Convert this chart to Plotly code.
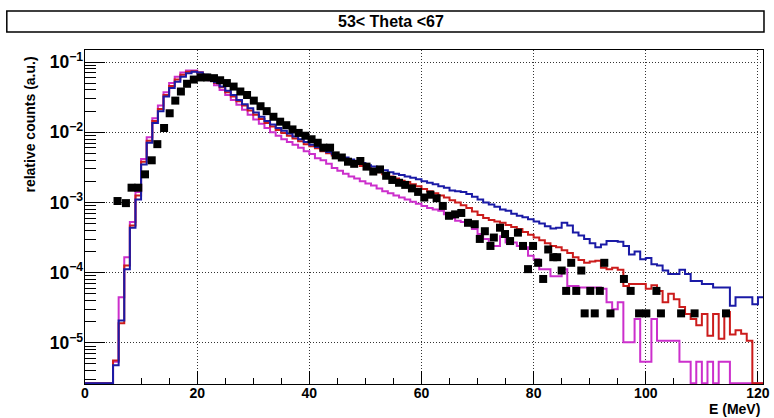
import plotly.graph_objects as go

# ---------------- data ----------------
# 1-MeV bins starting at 0 MeV; values are log10(relative counts); None = empty bin
bin_low_edges_mev = list(range(0, 121))

blue_log10 = [None, None, None, None, None,
    -5.32, -4.68, -3.95, -3.36, -2.96, -2.46, -2.15, -1.87, -1.70, -1.49,
    -1.37, -1.28, -1.21, -1.16, -1.14, -1.15, -1.18, -1.23, -1.29, -1.35,
    -1.41, -1.47, -1.54, -1.60, -1.66, -1.72, -1.78, -1.84, -1.89, -1.94,
    -1.98, -2.02, -2.06, -2.10, -2.14, -2.18, -2.21, -2.24, -2.28, -2.31,
    -2.34, -2.36, -2.39, -2.42, -2.44, -2.47, -2.49, -2.52, -2.54, -2.57,
    -2.59, -2.61, -2.63, -2.65, -2.67, -2.70, -2.72, -2.74, -2.77, -2.79,
    -2.83, -2.84, -2.85, -2.88, -2.92, -2.96, -3.00, -3.03, -3.06, -3.10,
    -3.12, -3.16, -3.19, -3.21, -3.24, -3.27, -3.30, -3.34, -3.37, -3.36,
    -3.29, -3.33, -3.43, -3.47, -3.52, -3.58, -3.64, -3.60, -3.55, -3.55,
    -3.56, -3.62, -3.74, -3.70, -3.81, -3.79, -3.88, -3.90, -3.97, -4.02,
    -4.02, -3.96, -4.02, -4.12, -4.12, -4.16, -4.16, -4.21, -4.21, -4.21,
    -4.47, -4.35, -4.35, -4.35, -4.45, -4.35]

red_log10 = [None, None, None, None, None,
    -5.25, -4.72, -3.90, -3.33, -2.90, -2.42, -2.12, -1.84, -1.67, -1.47,
    -1.34, -1.25, -1.18, -1.14, -1.13, -1.15, -1.19, -1.24, -1.30, -1.36,
    -1.43, -1.49, -1.56, -1.62, -1.69, -1.75, -1.81, -1.87, -1.92, -1.97,
    -2.01, -2.05, -2.09, -2.13, -2.17, -2.20, -2.23, -2.27, -2.30, -2.33,
    -2.36, -2.39, -2.42, -2.45, -2.48, -2.51, -2.54, -2.57, -2.60, -2.63,
    -2.66, -2.69, -2.71, -2.74, -2.77, -2.81, -2.84, -2.87, -2.90, -2.93,
    -2.97, -3.00, -3.04, -3.08, -3.13, -3.18, -3.22, -3.25, -3.27, -3.29,
    -3.32, -3.35, -3.38, -3.42, -3.46, -3.50, -3.54, -3.58, -3.62, -3.64,
    -3.68, -3.72, -3.78, -3.82, -3.86, -3.84, -3.83, -3.93, -3.95, -3.93,
    -3.96, -4.19, -4.16, -4.16, -4.16, -4.23, -4.18, -4.26, -4.42, -4.30,
    -4.38, -4.49, -4.59, -4.66, -4.75, -4.59, -4.90, -4.59, -4.94, -4.56,
    -4.88, -4.82, -4.87, -4.97, None, None]

magenta_log10 = [None, None, None, None, None,
    -5.27, -4.35, -3.78, -3.28, -2.85, -2.38, -2.07, -1.80, -1.62, -1.43,
    -1.30, -1.21, -1.15, -1.12, -1.12, -1.15, -1.20, -1.26, -1.33, -1.40,
    -1.47, -1.54, -1.61, -1.68, -1.75, -1.82, -1.88, -1.94, -2.00, -2.05,
    -2.10, -2.14, -2.18, -2.22, -2.27, -2.31, -2.37, -2.40, -2.45, -2.51,
    -2.55, -2.59, -2.63, -2.66, -2.70, -2.73, -2.76, -2.80, -2.84, -2.87,
    -2.90, -2.93, -2.96, -2.99, -3.02, -3.05, -3.08, -3.10, -3.12, -3.17,
    -3.22, -3.26, -3.28, -3.32, -3.38, -3.45, -3.52, -3.62, -3.62, -3.48,
    -3.57, -3.57, -3.62, -3.64, -3.76, -3.81, -3.95, -3.95, -4.05, -4.05,
    -3.95, -4.19, -4.19, -4.21, -4.21, -4.21, -4.21, -4.23, -4.42, -4.52,
    -4.42, -4.99, -4.99, -4.66, -5.27, -5.27, -4.66, -4.97, -4.97, -4.97,
    -4.97, -5.27, -5.27, None, -5.27, None, -5.27, None, -5.27, -5.27,
    None, None, None, None, None, None]

data_energy_mev = [
    5.8, 7.3, 8.3, 9.5, 10.7, 11.9, 12.9, 14.1, 15.1, 16.1, 17.1, 18.2, 19.4, 20.6,
    21.8, 23.0, 24.1, 25.3, 26.5, 27.7, 28.9, 30.1, 31.3, 32.4, 33.6, 34.8, 35.9,
    37.0, 38.1, 39.3, 40.4, 41.5, 42.5, 43.7, 44.7, 45.8, 46.9, 48.0, 49.1, 50.2,
    51.4, 52.6, 53.7, 54.8, 56.0, 57.1, 58.3, 59.4, 60.5, 61.6, 62.7, 63.8, 64.9,
    66.0, 67.1, 68.3, 69.5, 70.4, 71.3, 72.3, 72.9, 74.0, 74.9, 75.8, 77.2, 78.1,
    79.0, 79.9, 80.8, 81.7, 82.6, 83.5, 84.2, 85.0, 85.8, 86.7, 87.6, 88.5, 89.1,
    90.1, 90.9, 91.8, 92.6, 93.7, 96.1, 97.3, 98.8, 100.1, 101.9, 102.7, 106.3,
    108.7, 114.3]
data_log10 = [
    -2.98, -3.01, -2.79, -2.79, -2.60, -2.40, -2.17, -1.94, -1.73, -1.55, -1.42, -1.31, -1.25, -1.22,
    -1.22, -1.23, -1.26, -1.30, -1.35, -1.42, -1.47, -1.55, -1.63, -1.70, -1.78, -1.85, -1.90,
    -1.96, -2.01, -2.05, -2.10, -2.15, -2.22, -2.22, -2.33, -2.36, -2.42, -2.45, -2.41, -2.49,
    -2.56, -2.53, -2.62, -2.68, -2.72, -2.75, -2.80, -2.85, -2.93, -2.89, -2.94, -3.05, -3.19,
    -3.17, -3.15, -3.29, -3.31, -3.52, -3.41, -3.62, -3.50, -3.36, -3.45, -3.55, -3.43, -3.62,
    -3.95, -3.62, -3.86, -4.09, -3.67, -3.78, -3.78, -3.97, -4.26, -3.86, -4.26, -3.97, -4.58,
    -4.26, -4.58, -4.26, -3.86, -4.58, -4.09, -4.26, -4.58, -4.58, -4.26, -4.58, -4.58,
    -4.58, -4.58]

x_tick_values = [0, 20, 40, 60, 80, 100, 120]

# ---------------- layout geometry ----------------
W, H = 774, 418
L, R, T, B = 85, 4, 50, 34
PW, PH = W - L - R, H - T - B
X_RANGE = [0, 120.9]
Y_LOG_RANGE = [-5.586, -0.829]
FLOOR = 10 ** (Y_LOG_RANGE[0] + 0.012)   # empty bins are drawn on the frame bottom
FONT = "Liberation Sans, Arial, Helvetica, sans-serif"


def px_x(px):
    return (px - L) / PW


def px_y(py):
    return (H - B - py) / PH


def step_trace(logs, color):
    vals = [10 ** v if v is not None else FLOOR for v in logs]
    edges = bin_low_edges_mev + [bin_low_edges_mev[-1] + 1]
    return go.Scatter(x=edges, y=vals + [vals[-1]], mode="lines",
                      line=dict(shape="hv", color=color, width=2),
                      showlegend=False, hoverinfo="skip")


fig = go.Figure()
fig.add_trace(step_trace(magenta_log10, "#cc2fcc"))
fig.add_trace(step_trace(red_log10, "#cc1c1c"))
fig.add_trace(step_trace(blue_log10, "#1a1aa6"))
fig.add_trace(go.Scatter(x=data_energy_mev, y=[10 ** v for v in data_log10],
                         mode="markers",
                         marker=dict(symbol="square", size=8, color="black",
                                     line=dict(width=0)),
                         showlegend=False))

grid = dict(showgrid=True, gridcolor="#333333", gridwidth=1, griddash="1px,2px")
axis_common = dict(showline=True, linecolor="black", linewidth=1, mirror=True,
                   ticks="inside", tickcolor="black", tickwidth=1, zeroline=False,
                   layer="below traces", ticklabeloverflow="allow",
                   tickfont=dict(family=FONT, size=14, color="black", weight="bold"))

fig.update_layout(
    width=W, height=H,
    margin=dict(l=L, r=R, t=T, b=B),
    paper_bgcolor="white", plot_bgcolor="white",
    font=dict(family=FONT, color="black"),
    xaxis=dict(range=X_RANGE, tickvals=x_tick_values, ticklen=13,
               ticklabelstandoff=-4,
               minor=dict(dtick=5, ticks="inside", ticklen=6, tickcolor="black",
                          showgrid=False),
               **grid, **axis_common),
    yaxis=dict(type="log", range=Y_LOG_RANGE, dtick=1, exponentformat="power",
               showexponent="all", ticklen=20, ticklabelstandoff=-2,
               minor=dict(dtick="D1", ticks="inside", ticklen=11, tickcolor="black",
                          showgrid=False),
               **grid, **axis_common),
    shapes=[dict(type="rect", xref="paper", yref="paper",
                 x0=px_x(6), x1=px_x(771), y0=px_y(32), y1=px_y(11),
                 line=dict(color="black", width=1.5), fillcolor="white")],
    annotations=[
        dict(text="53&lt; Theta &lt;67", xref="paper", yref="paper",
             x=px_x(394), y=px_y(21.5), xanchor="center", yanchor="middle",
             showarrow=False, font=dict(family=FONT, size=16, weight="bold")),
        dict(text="relative counts (a.u.)", xref="paper", yref="paper",
             x=px_x(29), y=px_y(125), xanchor="center", yanchor="middle",
             textangle=-90, showarrow=False,
             font=dict(family=FONT, size=14, weight="bold")),
        dict(text="E (MeV)", xref="paper", yref="paper",
             x=px_x(769), y=px_y(409), xanchor="right", yanchor="middle",
             showarrow=False, font=dict(family=FONT, size=14, weight="bold")),
    ],
)

fig.write_html("out.html",
               config={"displayModeBar": False},
               post_script="document.body.style.margin='0px';"
                           "document.body.style.padding='0px';"
                           "document.body.style.overflow='hidden';")
